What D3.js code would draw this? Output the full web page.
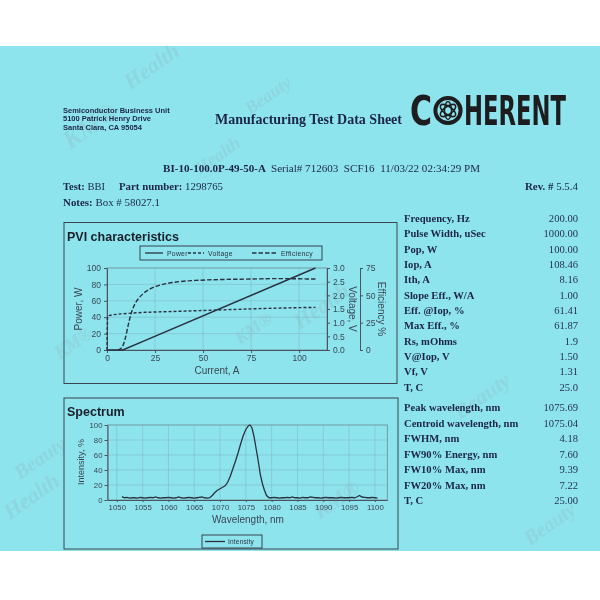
<!DOCTYPE html>
<html><head><meta charset="utf-8">
<script src="https://cdn.jsdelivr.net/npm/d3@7"></script>
<style>html,body{margin:0;padding:0;background:#fff} text{white-space:pre}</style>
</head><body><svg id="c" width="600" height="600"></svg>
<script>
// ---------------- DATA ----------------
const pviCurrentTicks = [0, 25, 50, 75, 100];
const powerTicks = [0, 20, 40, 60, 80, 100];
const voltageTicks = [0, 0.5, 1.0, 1.5, 2.0, 2.5, 3.0];
const efficiencyTicks = [0, 25, 50, 75];

const powerCurrent = [0, 8.2, 108.5];
const powerW = [0, 0, 100];

const voltageCurrent = [0, 0.1, 0.3, 1, 3, 7, 13, 20, 30, 48, 65, 82, 100, 108.5];
const voltageV = [0, 0.6, 1.23, 1.26, 1.29, 1.32, 1.35, 1.38, 1.40, 1.44, 1.48, 1.52, 1.55, 1.56];

const effCurrent = [5.7, 8, 9.5, 11, 12.5, 14.3, 16.5, 19, 22, 26, 31, 38, 48, 60, 75, 88, 100, 108.5];
const effPct = [0, 3, 10.5, 22.5, 33, 41.3, 47.3, 51.8, 55.5, 58.5, 60.8, 62.6, 63.8, 64.5, 64.9, 65.3, 65.1, 64.9];

const pviLegend = ["Power", "Voltage", "Efficiency"];

const specWavelengthTicks = [1050, 1055, 1060, 1065, 1070, 1075, 1080, 1085, 1090, 1095, 1100];
const specIntensityTicks = [0, 20, 40, 60, 80, 100];
const specWavelength = [
  1051, 1051.5, 1052, 1052.5, 1053, 1053.5, 1054, 1054.5, 1055, 1055.5, 1056, 1056.5, 1057, 1057.5,
  1058, 1058.5, 1059, 1059.5, 1060, 1060.5, 1061, 1061.5, 1062, 1062.5, 1063, 1063.5, 1064, 1064.5,
  1065, 1065.5, 1066, 1066.5, 1067, 1067.5, 1068,
  1068.5, 1069, 1069.5, 1070, 1070.5, 1071, 1071.5, 1072, 1072.5, 1073, 1073.5, 1074, 1074.5, 1075,
  1075.5, 1075.8, 1076.2, 1076.6, 1077, 1077.4, 1077.8, 1078.2, 1078.6, 1079, 1079.5,
  1080, 1080.5, 1081, 1081.5, 1082, 1082.5, 1083, 1083.5, 1084, 1084.5, 1085, 1085.5, 1086, 1086.5,
  1087, 1087.5, 1088, 1088.5, 1089, 1089.5, 1090, 1090.5, 1091, 1091.5, 1092, 1092.5, 1093, 1093.5,
  1094, 1094.5, 1095, 1095.5, 1096, 1096.5, 1097, 1097.5, 1098, 1098.5, 1099, 1099.5, 1100, 1100.5];
const specIntensity = [
  4.5, 3, 3.5, 2.5, 3, 3, 2.5, 3.5, 3, 2.5, 3, 3.5, 3, 4,
  3, 2.5, 3, 3, 3.5, 3, 2.5, 3, 4, 3, 2.5, 3, 3.5, 3,
  2.5, 3, 3.5, 4, 3, 2.5, 3,
  6, 10, 13, 15, 17, 19, 24, 32, 42, 52, 63, 75, 86, 94,
  99, 100, 96, 84, 68, 52, 34, 22, 13, 6, 3,
  3, 3.5, 3, 2.5, 3, 3, 3.5, 3, 4, 3, 3, 2.5, 3.5, 3,
  3, 4, 3.5, 3, 3, 2.5, 3, 3.5, 3, 3, 3, 2.5, 3, 3.5,
  3, 3, 3, 3.5, 3, 4, 6, 4, 3.5, 3, 3, 3.5, 3, 2.5];

const pviParamLabels = ["Frequency, Hz", "Pulse Width, uSec", "Pop, W", "Iop, A", "Ith, A", "Slope Eff., W/A",
  "Eff. @Iop, %", "Max Eff., %", "Rs, mOhms", "V@Iop, V", "Vf, V", "T, C"];
const pviParamValues = ["200.00", "1000.00", "100.00", "108.46", "8.16", "1.00", "61.41", "61.87", "1.9", "1.50", "1.31", "25.0"];
const specParamLabels = ["Peak wavelength, nm", "Centroid wavelength, nm", "FWHM, nm", "FW90% Energy, nm",
  "FW10% Max, nm", "FW20% Max, nm", "T, C"];
const specParamValues = ["1075.69", "1075.04", "4.18", "7.60", "9.39", "7.22", "25.00"];

// ---------------- STYLE ----------------
const CYAN = "#8de4ed";
const NAVY = "#1c2546";
const INK = "#2a3140";
const AX = "#3c4655";
const SERIF = "'Liberation Serif','Times New Roman',serif";
const SANS = "'Liberation Sans',Arial,sans-serif";
const NARROW = "'Liberation Sans Narrow','Arial Narrow','DejaVu Sans Condensed',sans-serif";

const svg = d3.select("#c");
svg.append("rect").attr("x", 0).attr("y", 0).attr("width", 600).attr("height", 600).attr("fill", "#fff");
svg.append("rect").attr("x", 0).attr("y", 46).attr("width", 600).attr("height", 505).attr("fill", CYAN);

// faint watermark
const wm = svg.append("g").attr("fill", "#9a8a96").attr("opacity", 0.16)
  .attr("font-family", SERIF).attr("font-style", "italic").attr("font-weight", "bold");
[["KM®", 70, 150, 26], ["Health", 130, 90, 22], ["Beauty", 250, 115, 18], ["Health", 200, 175, 18],
 ["KM®", 240, 345, 18], ["Health", 300, 330, 22], ["Beauty", 460, 420, 22], ["Health", 10, 520, 22],
 ["KM®", 320, 520, 22], ["Beauty", 530, 546, 20], ["Beauty", 20, 480, 20], ["KM®", 60, 360, 18]]
  .forEach(([t, x, y, s]) => wm.append("text").attr("x", x).attr("y", y).attr("font-size", s)
    .attr("transform", `rotate(-35 ${x} ${y})`).text(t));

// ---------------- HEADER ----------------
const addr = ["Semiconductor Business Unit", "5100 Patrick Henry Drive", "Santa Clara, CA 95054"];
addr.forEach((t, i) => svg.append("text").attr("x", 63).attr("y", 112.5 + i * 8.6)
  .attr("font-family", SANS).attr("font-weight", "bold").attr("font-size", 7.5)
  .attr("fill", NAVY).text(t));

svg.append("text").attr("x", 215).attr("y", 124).attr("font-family", SERIF).attr("font-weight", "bold")
  .attr("font-size", 14).attr("fill", NAVY).attr("textLength", 187).attr("lengthAdjust", "spacingAndGlyphs")
  .text("Manufacturing Test Data Sheet");

// COHERENT logo (text scaled horizontally to fit)
const logo = svg.append("g").attr("fill", "#1d1d1f");
function fitText(str, x, y, w, fs) {
  const t = logo.append("text").attr("x", 0).attr("y", 0).attr("font-family", NARROW)
    .attr("font-weight", "bold").attr("font-size", fs).text(str);
  const len = t.node().getComputedTextLength();
  t.attr("transform", `translate(${x},${y}) scale(${w / len},1)`);
}
fitText("C", 410, 125, 22, 41);
fitText("HERENT", 464, 125, 102, 41);
logo.append("circle").attr("cx", 448).attr("cy", 110.5).attr("r", 12.6).attr("fill", "none")
  .attr("stroke", "#1d1d1f").attr("stroke-width", 4);
logo.append("ellipse").attr("cx", 448).attr("cy", 110.5).attr("rx", 9).attr("ry", 4).attr("fill", "none")
  .attr("stroke", "#1d1d1f").attr("stroke-width", 1.6).attr("transform", "rotate(-35 448 110.5)");
logo.append("ellipse").attr("cx", 448).attr("cy", 110.5).attr("rx", 9).attr("ry", 4).attr("fill", "none")
  .attr("stroke", "#1d1d1f").attr("stroke-width", 1.6).attr("transform", "rotate(35 448 110.5)");
logo.append("ellipse").attr("cx", 448).attr("cy", 110.5).attr("rx", 3.5).attr("ry", 9).attr("fill", "none")
  .attr("stroke", "#1d1d1f").attr("stroke-width", 1.4);

function mixed(x, y, parts, len) {
  const t = svg.append("text").attr("x", x).attr("y", y).attr("font-family", SERIF)
    .attr("font-size", 10.5).attr("fill", NAVY);
  parts.forEach(([s, b]) => t.append("tspan").attr("font-weight", b ? "bold" : "normal").text(s));
  if (len) t.attr("textLength", len).attr("lengthAdjust", "spacingAndGlyphs");
  return t;
}
mixed(163, 172, [["BI-10-100.0P-49-50-A", true]], 103);
mixed(271, 172, [["Serial# 712603  SCF16  11/03/22 02:34:29 PM", false]], 209);
mixed(63, 190, [["Test: ", true], ["BBI", false]]);
mixed(119, 190, [["Part number: ", true], ["1298765", false]], 104);
mixed(525, 190, [["Rev. # ", true], ["5.5.4", false]], 53);
mixed(63, 206, [["Notes: ", true], ["Box # 58027.1", false]], 97);

// ---------------- PVI CHART ----------------
svg.append("rect").attr("x", 64).attr("y", 222.5).attr("width", 333).attr("height", 161)
  .attr("fill", "none").attr("stroke", "#3a4450").attr("stroke-width", 1);
svg.append("text").attr("x", 67).attr("y", 241).attr("font-family", SANS).attr("font-weight", "bold")
  .attr("font-size", 12.5).attr("fill", "#1a1f2c").text("PVI characteristics");

const xP = d3.scaleLinear().domain([0, 114.5]).range([107, 327]);
const yPow = d3.scaleLinear().domain([0, 100]).range([350, 268]);
const yV = d3.scaleLinear().domain([0, 3]).range([350, 268]);
const yEff = d3.scaleLinear().domain([0, 75]).range([350, 268]);

const gridP = svg.append("g").attr("stroke", "#7fa8b2").attr("stroke-width", 0.6).attr("opacity", 0.7);
gridP.selectAll("line.v").data(pviCurrentTicks.slice(1)).join("line")
  .attr("x1", d => xP(d)).attr("x2", d => xP(d)).attr("y1", 268).attr("y2", 350);
gridP.selectAll("line.h").data(powerTicks.slice(1, -1)).join("line")
  .attr("x1", 107).attr("x2", 327).attr("y1", d => yPow(d)).attr("y2", d => yPow(d));
svg.append("rect").attr("x", 107).attr("y", 268).attr("width", 220).attr("height", 82)
  .attr("fill", "none").attr("stroke", "#6d8791").attr("stroke-width", 0.8);

function styleAxis(g, fs) {
  g.attr("font-family", SANS).attr("font-size", fs);
  g.selectAll("text").attr("fill", AX);
  g.selectAll("line").attr("stroke", "#4a5460");
  g.select(".domain").attr("stroke", "#4a5460");
}
svg.append("g").attr("transform", "translate(107,0)")
  .call(d3.axisLeft(yPow).tickValues(powerTicks).tickSize(3).tickSizeOuter(0).tickPadding(3))
  .call(g => styleAxis(g, 8.5));
svg.append("g").attr("transform", "translate(0,350)")
  .call(d3.axisBottom(xP).tickValues(pviCurrentTicks).tickSize(3).tickSizeOuter(0).tickPadding(2))
  .call(g => styleAxis(g, 8.5));
svg.append("g").attr("transform", "translate(327,0)")
  .call(d3.axisRight(yV).tickValues(voltageTicks).tickFormat(d3.format(".1f")).tickSize(3).tickSizeOuter(0).tickPadding(3))
  .call(g => styleAxis(g, 8.5));
svg.append("g").attr("transform", "translate(360,0)")
  .call(d3.axisRight(yEff).tickValues(efficiencyTicks).tickSize(3).tickSizeOuter(3).tickPadding(3))
  .call(g => styleAxis(g, 8.5));

const axLabel = (x, y, rot, t, fs) => svg.append("text").attr("x", x).attr("y", y)
  .attr("transform", `rotate(${rot} ${x} ${y})`).attr("text-anchor", "middle").attr("dominant-baseline", "middle")
  .attr("font-family", SANS).attr("font-size", fs).attr("fill", AX).text(t);
axLabel(79, 309, -90, "Power, W", 10);
axLabel(217, 371, 0, "Current, A", 10);
axLabel(352, 309, 90, "Voltage, V", 10);
axLabel(381, 309, 90, "Efficiency %", 10);

const lineP = d3.line().x(d => xP(d[0])).y(d => yPow(d[1]));
const lineV = d3.line().x(d => xP(d[0])).y(d => yV(d[1]));
const lineE = d3.line().x(d => xP(d[0])).y(d => yEff(d[1]));
const dashes = { Power: null, Voltage: "3,2", Efficiency: "4.5,2" };
svg.append("path").datum(d3.zip(powerCurrent, powerW)).attr("d", lineP)
  .attr("fill", "none").attr("stroke", INK).attr("stroke-width", 1.4);
svg.append("path").datum(d3.zip(voltageCurrent, voltageV)).attr("d", lineV)
  .attr("fill", "none").attr("stroke", INK).attr("stroke-width", 1.4).attr("stroke-dasharray", dashes.Voltage);
svg.append("path").datum(d3.zip(effCurrent, effPct)).attr("d", lineE.curve(d3.curveMonotoneX))
  .attr("fill", "none").attr("stroke", INK).attr("stroke-width", 1.4).attr("stroke-dasharray", dashes.Efficiency);

// legend
svg.append("rect").attr("x", 140).attr("y", 246).attr("width", 182).attr("height", 14)
  .attr("fill", "none").attr("stroke", "#2e3440").attr("stroke-width", 0.9);
const legX = d3.scaleOrdinal().domain(pviLegend).range([145, 188, 252]);
const legLen = { Power: 18, Voltage: 16, Efficiency: 25 };
const lg = svg.append("g").selectAll("g").data(pviLegend).join("g");
lg.append("line").attr("x1", d => legX(d)).attr("x2", d => legX(d) + legLen[d]).attr("y1", 253).attr("y2", 253)
  .attr("stroke", INK).attr("stroke-width", 1.3).attr("stroke-dasharray", d => dashes[d]);
lg.append("text").attr("x", d => legX(d) + legLen[d] + 4).attr("y", 255.5).attr("font-family", SANS)
  .attr("font-size", 6.8).attr("letter-spacing", 0.3).attr("fill", "#2b3340").text(d => d);

// ---------------- SPECTRUM ----------------
svg.append("rect").attr("x", 64).attr("y", 398).attr("width", 334).attr("height", 151)
  .attr("fill", "none").attr("stroke", "#3a4450").attr("stroke-width", 1);
svg.append("text").attr("x", 67).attr("y", 416).attr("font-family", SANS).attr("font-weight", "bold")
  .attr("font-size", 12.5).attr("fill", "#1a1f2c").text("Spectrum");

const xS = d3.scaleLinear().domain([1048.2, 1102.4]).range([107.5, 387.3]);
const yS = d3.scaleLinear().domain([0, 100]).range([500, 425]);
const gridS = svg.append("g").attr("stroke", "#7fa8b2").attr("stroke-width", 0.6).attr("opacity", 0.7);
gridS.selectAll("line.v").data(specWavelengthTicks).join("line")
  .attr("x1", d => xS(d)).attr("x2", d => xS(d)).attr("y1", 425).attr("y2", 500);
gridS.selectAll("line.h").data(specIntensityTicks.slice(1, -1)).join("line")
  .attr("x1", 107.5).attr("x2", 387.3).attr("y1", d => yS(d)).attr("y2", d => yS(d));
svg.append("rect").attr("x", 107.5).attr("y", 425).attr("width", 279.8).attr("height", 75)
  .attr("fill", "none").attr("stroke", "#6d8791").attr("stroke-width", 0.8);
svg.append("g").attr("transform", "translate(107.5,0)")
  .call(d3.axisLeft(yS).tickValues(specIntensityTicks).tickSize(3).tickSizeOuter(0).tickPadding(2))
  .call(g => styleAxis(g, 7.8));
svg.append("g").attr("transform", "translate(0,500)")
  .call(d3.axisBottom(xS).tickValues(specWavelengthTicks).tickFormat(d3.format("d")).tickSize(2).tickSizeOuter(0).tickPadding(2))
  .call(g => styleAxis(g, 7.8));
axLabel(82, 462, -90, "Intensity, %", 9);
axLabel(248, 520, 0, "Wavelength, nm", 10);

svg.append("path").datum(d3.zip(specWavelength, specIntensity))
  .attr("d", d3.line().x(d => xS(d[0])).y(d => yS(d[1])))
  .attr("fill", "none").attr("stroke", INK).attr("stroke-width", 1.3);

svg.append("rect").attr("x", 202).attr("y", 535).attr("width", 60).attr("height", 13)
  .attr("fill", "none").attr("stroke", "#2e3440").attr("stroke-width", 0.9);
svg.append("line").attr("x1", 205).attr("x2", 225).attr("y1", 541.5).attr("y2", 541.5)
  .attr("stroke", INK).attr("stroke-width", 1.3);
svg.append("text").attr("x", 228).attr("y", 544).attr("font-family", SANS).attr("font-size", 6.5)
  .attr("letter-spacing", 0.2).attr("fill", "#2b3340").text("Intensity");

// ---------------- PARAMETER TABLES ----------------
const rowP = d3.scalePoint().domain(pviParamLabels).range([222, 390.5]);
const rowS = d3.scalePoint().domain(specParamLabels).range([411, 504]);
function table(labels, values, row) {
  const g = svg.append("g").attr("font-family", SERIF).attr("font-size", 10.6);
  g.selectAll("text.l").data(labels).join("text").attr("x", 404).attr("y", d => row(d))
    .attr("font-weight", "bold").attr("fill", NAVY).text(d => d);
  g.selectAll("text.v").data(values).join("text").attr("x", 578).attr("y", (d, i) => row(labels[i]))
    .attr("text-anchor", "end").attr("fill", "#283152").text(d => d);
}
table(pviParamLabels, pviParamValues, rowP);
table(specParamLabels, specParamValues, rowS);
</script></body></html>
